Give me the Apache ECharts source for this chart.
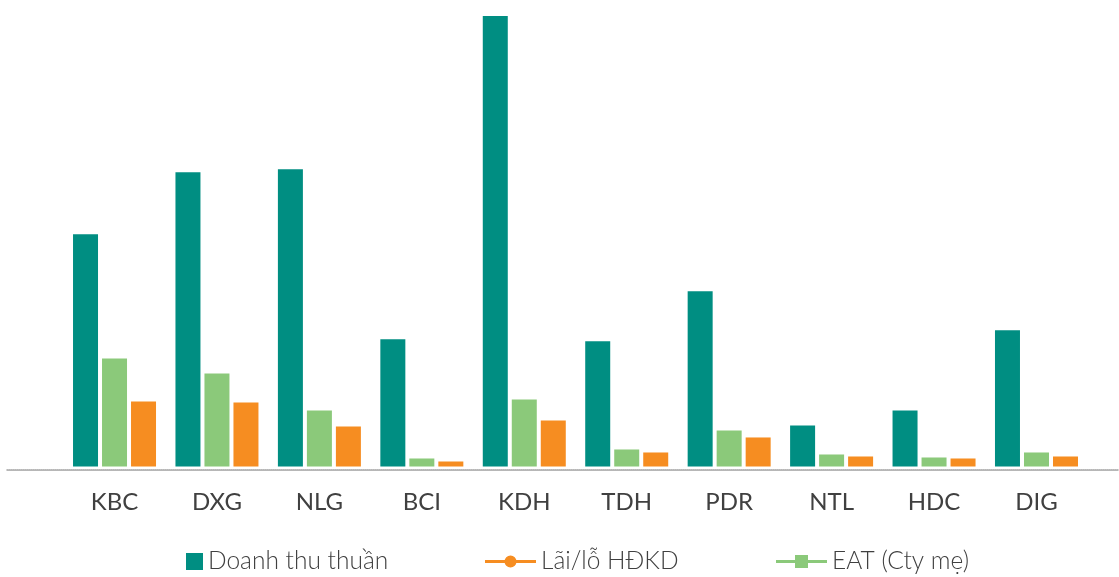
<!DOCTYPE html>
<html><head><meta charset="utf-8">
<script src="https://cdn.jsdelivr.net/npm/echarts@6/dist/echarts.min.js"></script>
<style>html,body{margin:0;padding:0;background:#fff}#c{width:1119px;height:577px}</style>
</head><body><div id="c"></div>
<script>
const categories = ['KBC','DXG','NLG','BCI','KDH','TDH','PDR','NTL','HDC','DIG'];
const doanhThu = [232, 294, 297, 127, 450, 125, 175, 41, 56, 136];
const eat = [108, 93, 56, 8, 67, 17, 36, 12, 9, 14];
const laiLo = [65, 64, 40, 5, 46, 14, 29, 10, 8, 10];
const names = ['Doanh thu thuần', 'Lãi/lỗ HĐKD', 'EAT (Cty mẹ)'];
const colors = { teal: '#008E82', orange: '#F68D21', green: '#8BC97A' };

const txt = { fontFamily: 'Lato', color: '#404040' };
const legendBase = { orient: 'horizontal', top: 549, padding: 0, selectedMode: false,
  textStyle: Object.assign({ fontSize: 24.5, fontWeight: 300 }, txt) };

const chart = echarts.init(document.getElementById('c'));
chart.setOption({
  animation: false,
  grid: [
    { left: 63.3, right: 31.3, top: 16, bottom: 110.5 },
    { left: 7, right: 0, top: 16, bottom: 107 }
  ],
  xAxis: [
    { type: 'category', data: categories, gridIndex: 0,
      axisLine: { show: false }, axisTick: { show: false },
      axisLabel: Object.assign({ fontSize: 24, fontWeight: 400, margin: 24 }, txt) },
    { type: 'category', data: [''], gridIndex: 1,
      axisLine: { show: true, lineStyle: { color: '#a0a0a0', type: [1, 1], width: 1.5 } },
      axisTick: { show: false }, axisLabel: { show: false } }
  ],
  yAxis: [
    { type: 'value', gridIndex: 0, min: 0, max: 450, show: false },
    { type: 'value', gridIndex: 1, show: false }
  ],
  legend: [
    Object.assign({}, legendBase, { left: 186, data: [{ name: names[0], icon: 'rect' }], itemWidth: 17, itemHeight: 17 }),
    Object.assign({}, legendBase, { left: 485, itemWidth: 51, itemHeight: 12,
      data: [{ name: names[1], icon: 'path://M0,4.5h20v3h-20z M31,4.5h20v3h-20z M19.5,6a6,6 0 1,1 12,0a6,6 0 1,1 -12,0z' }] }),
    Object.assign({}, legendBase, { left: 776, itemWidth: 51, itemHeight: 13,
      data: [{ name: names[2], icon: 'path://M0,5h19v3h-19z M32,5h19v3h-19z M19,0h13v13h-13z' }] })
  ],
  series: [
    { name: names[0], type: 'bar', data: doanhThu, barWidth: 25, barGap: '16%', itemStyle: { color: colors.teal } },
    { name: names[2], type: 'bar', data: eat, barWidth: 25, barGap: '16%', itemStyle: { color: colors.green } },
    { name: names[1], type: 'bar', data: laiLo, barWidth: 25, barGap: '16%', itemStyle: { color: colors.orange } }
  ]
});
</script></body></html>
